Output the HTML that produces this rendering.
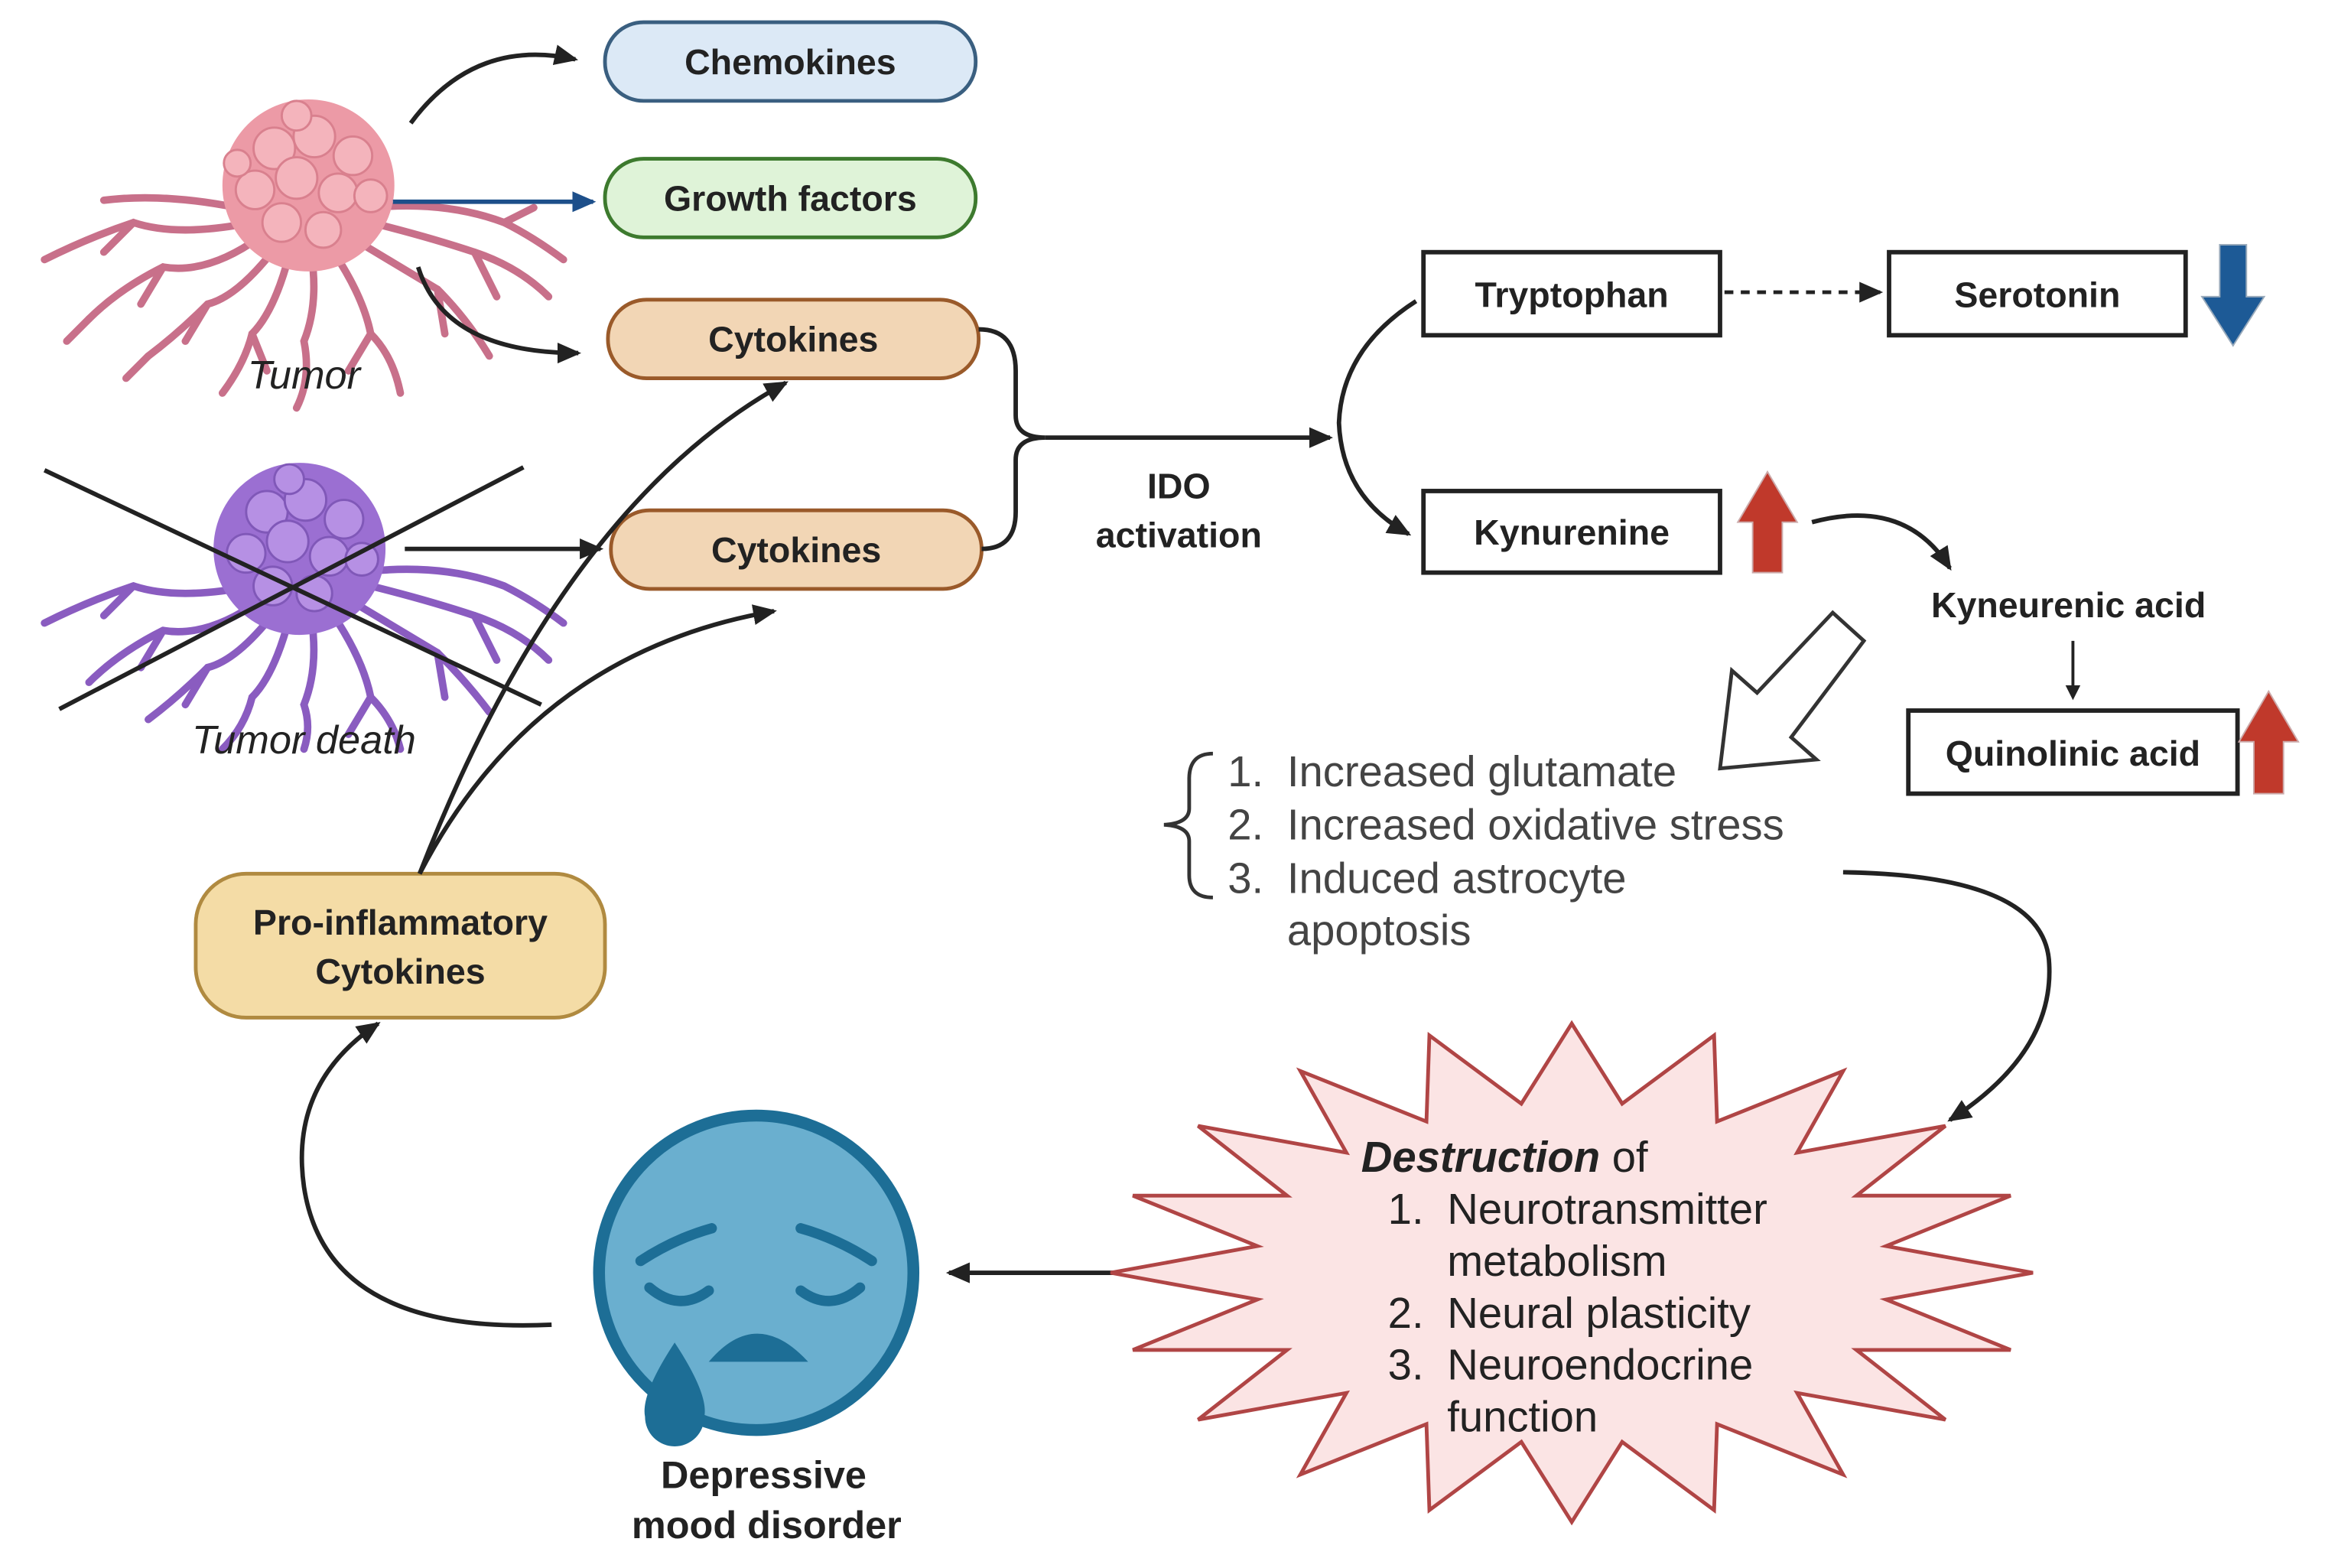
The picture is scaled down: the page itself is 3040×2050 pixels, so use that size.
<!DOCTYPE html>
<html><head><meta charset="utf-8"><style>
html,body{margin:0;padding:0;background:#fff;width:3040px;height:2050px;overflow:hidden}
svg{display:block}
text{font-family:"Liberation Sans",sans-serif}
</style></head><body>
<svg width="3040" height="2050" viewBox="0 0 1568 1057" preserveAspectRatio="none" xmlns="http://www.w3.org/2000/svg">
<defs>
<marker id="ah" markerWidth="10" markerHeight="10" refX="8" refY="5" orient="auto" markerUnits="userSpaceOnUse" viewBox="0 0 10 10"><path d="M0,0 L10,5 L0,10 z" fill="#222"/></marker>
<marker id="ah2" markerWidth="16" markerHeight="16" refX="14" refY="8" orient="auto" markerUnits="userSpaceOnUse" viewBox="0 0 16 16"><path d="M0,1 L16,8 L0,15 z" fill="#222"/></marker>
<marker id="ahb" markerWidth="16" markerHeight="16" refX="14" refY="8" orient="auto" markerUnits="userSpaceOnUse" viewBox="0 0 16 16"><path d="M0,1 L16,8 L0,15 z" fill="#1d4f8a"/></marker>
</defs>

<!-- Tumor (pink) -->
<g stroke="#c8708a" stroke-width="5" fill="none" stroke-linecap="round">
<path d="M170,150 Q120,160 90,150 Q60,160 30,175"/>
<path d="M175,160 Q140,185 110,180 Q80,195 60,215"/>
<path d="M185,168 Q160,200 140,205 Q120,225 100,240"/>
<path d="M195,172 Q185,210 170,225 Q165,245 150,265"/>
<path d="M210,172 Q215,205 205,230 Q210,255 200,275"/>
<path d="M225,170 Q245,200 250,225 Q265,240 270,265"/>
<path d="M240,162 Q270,180 295,195 Q315,215 330,240"/>
<path d="M250,150 Q290,160 320,170 Q350,180 370,200"/>
<path d="M250,140 Q300,135 340,150 Q360,160 380,175"/>
<path d="M160,140 Q110,130 70,135"/>
<path d="M90,150 L70,170 M110,180 L95,205 M140,205 L125,230 M170,225 L180,250 M250,225 L235,250 M295,195 L300,225 M320,170 L335,200 M340,150 L360,140 M60,215 L45,230 M100,240 L85,255"/>
</g>
<circle cx="208" cy="125" r="58" fill="#ec9aa6"/>
<g fill="#f4b4bc" stroke="#d9808e" stroke-width="1.5">
<circle cx="185" cy="100" r="14"/><circle cx="212" cy="92" r="14"/><circle cx="238" cy="105" r="13"/><circle cx="172" cy="128" r="13"/><circle cx="200" cy="120" r="14"/><circle cx="228" cy="130" r="13"/><circle cx="250" cy="132" r="11"/><circle cx="190" cy="150" r="13"/><circle cx="218" cy="155" r="12"/><circle cx="200" cy="78" r="10"/><circle cx="160" cy="110" r="9"/>
</g>
<text x="205" y="262" font-size="27" font-style="italic" text-anchor="middle" fill="#222">Tumor</text>

<!-- Tumor death (purple) -->
<g stroke="#8a5cc0" stroke-width="5" fill="none" stroke-linecap="round">
<path d="M170,395 Q120,405 90,395 Q60,405 30,420"/>
<path d="M175,405 Q140,430 110,425 Q80,440 60,460"/>
<path d="M185,413 Q160,445 140,450 Q120,470 100,485"/>
<path d="M195,417 Q185,455 170,470 Q165,490 150,505"/>
<path d="M210,417 Q215,450 205,475 Q210,490 205,505"/>
<path d="M225,415 Q245,445 250,470 Q265,485 270,505"/>
<path d="M240,407 Q270,425 295,440 Q315,460 330,480"/>
<path d="M250,395 Q290,405 320,415 Q350,425 370,445"/>
<path d="M250,385 Q300,380 340,395 Q360,405 380,420"/>
<path d="M90,395 L70,415 M110,425 L95,450 M140,450 L125,475 M250,470 L235,495 M295,440 L300,470 M320,415 L335,445"/>
</g>
<circle cx="202" cy="370" r="58" fill="#9b6fd2"/>
<g fill="#b690e4" stroke="#8058b8" stroke-width="1.5">
<circle cx="180" cy="345" r="14"/><circle cx="206" cy="337" r="14"/><circle cx="232" cy="350" r="13"/><circle cx="166" cy="373" r="13"/><circle cx="194" cy="365" r="14"/><circle cx="222" cy="375" r="13"/><circle cx="244" cy="377" r="11"/><circle cx="184" cy="395" r="13"/><circle cx="212" cy="400" r="12"/><circle cx="195" cy="323" r="10"/>
</g>
<line x1="30" y1="317" x2="365" y2="475" stroke="#222" stroke-width="3"/>
<line x1="40" y1="478" x2="353" y2="315" stroke="#222" stroke-width="3"/>
<text x="205" y="508" font-size="27" font-style="italic" text-anchor="middle" fill="#222">Tumor death</text>

<!-- Boxes left -->
<rect x="408" y="15" width="250" height="53" rx="26" fill="#dce9f6" stroke="#3a5f80" stroke-width="2.5"/>
<text x="533" y="50" font-size="24" font-weight="bold" text-anchor="middle" fill="#222">Chemokines</text>
<rect x="408" y="107" width="250" height="53" rx="26" fill="#dff3d8" stroke="#3d7a2e" stroke-width="2.5"/>
<text x="533" y="142" font-size="24" font-weight="bold" text-anchor="middle" fill="#222">Growth factors</text>
<rect x="410" y="202" width="250" height="53" rx="26" fill="#f2d6b5" stroke="#9a5a2a" stroke-width="2.5"/>
<text x="535" y="237" font-size="24" font-weight="bold" text-anchor="middle" fill="#222">Cytokines</text>
<rect x="412" y="344" width="250" height="53" rx="26" fill="#f2d6b5" stroke="#9a5a2a" stroke-width="2.5"/>
<text x="537" y="379" font-size="24" font-weight="bold" text-anchor="middle" fill="#222">Cytokines</text>
<rect x="132" y="589" width="276" height="97" rx="34" fill="#f4dca6" stroke="#b08a40" stroke-width="2.5"/>
<text x="270" y="630" font-size="24" font-weight="bold" text-anchor="middle" fill="#222">Pro-inflammatory</text>
<text x="270" y="663" font-size="24" font-weight="bold" text-anchor="middle" fill="#222">Cytokines</text>

<!-- tumor arrows -->
<g fill="none" stroke="#222" stroke-width="3">
<path d="M277,83 Q320,25 388,40" marker-end="url(#ah2)"/>
<path d="M282,180 Q300,238 390,238" marker-end="url(#ah2)"/>
<path d="M273,370 L405,370" marker-end="url(#ah2)"/>
<path d="M283,589 Q380,340 530,258" marker-end="url(#ah2)"/>
<path d="M283,589 Q360,440 522,412" marker-end="url(#ah2)"/>
<path d="M372,893 Q220,900 205,800 Q195,730 255,690" marker-end="url(#ah2)"/>
<path d="M760,858 L640,858" marker-end="url(#ah2)"/>
<path d="M660,222 Q685,222 685,250 L685,280 Q685,295 705,295 Q685,295 685,310 L685,345 Q685,370 662,370"/>
<path d="M705,295 L897,295" marker-end="url(#ah2)"/>
<path d="M955,203 Q905,235 903,285 Q905,335 950,360" marker-end="url(#ah2)"/>
<path d="M1222,352 Q1285,335 1315,383" marker-end="url(#ah2)"/>
<path d="M1398,432 L1398,470" stroke-width="2" marker-end="url(#ah)"/>
<path d="M1243,588 Q1380,590 1382,650 Q1385,710 1315,755" marker-end="url(#ah2)"/>
</g>
<line x1="265" y1="136" x2="400" y2="136" stroke="#1d4f8a" stroke-width="3" marker-end="url(#ahb)"/>
<line x1="1163" y1="197" x2="1268" y2="197" stroke="#222" stroke-width="2.5" stroke-dasharray="6,5" marker-end="url(#ah2)"/>

<text x="795" y="336" font-size="24" font-weight="bold" text-anchor="middle" fill="#222">IDO</text>
<text x="795" y="369" font-size="24" font-weight="bold" text-anchor="middle" fill="#222">activation</text>

<!-- right boxes -->
<g fill="#fff" stroke="#222" stroke-width="3">
<rect x="960" y="170" width="200" height="56"/>
<rect x="1274" y="170" width="200" height="56"/>
<rect x="960" y="331" width="200" height="55"/>
<rect x="1287" y="479" width="222" height="56"/>
</g>
<text x="1060" y="207" font-size="24" font-weight="bold" text-anchor="middle" fill="#222">Tryptophan</text>
<text x="1374" y="207" font-size="24" font-weight="bold" text-anchor="middle" fill="#222">Serotonin</text>
<text x="1060" y="367" font-size="24" font-weight="bold" text-anchor="middle" fill="#222">Kynurenine</text>
<text x="1398" y="516" font-size="24" font-weight="bold" text-anchor="middle" fill="#222">Quinolinic acid</text>
<text x="1395" y="416" font-size="24" font-weight="bold" text-anchor="middle" fill="#222">Kyneurenic acid</text>

<!-- up/down arrows -->
<path d="M1497,165 L1515,165 L1515,200 L1527,200 L1506,233 L1485,200 L1497,200 Z" fill="#1d5a96" stroke="#9ab" stroke-width="1"/>
<path d="M1182,386 L1202,386 L1202,352 L1212,352 L1192,318 L1172,352 L1182,352 Z" fill="#c0392b" stroke="#caa" stroke-width="1"/>
<path d="M1520,535 L1540,535 L1540,500 L1550,500 L1530,466 L1510,500 L1520,500 Z" fill="#c0392b" stroke="#caa" stroke-width="1"/>
<!-- hollow arrow -->
<path d="M1257,432 L1236,413 L1185,467 L1168,452 L1160,518 L1225,512 L1208,497 Z" fill="#fff" stroke="#333" stroke-width="2.5"/>

<!-- list with brace -->
<path d="M818,508 Q802,508 802,525 L802,545 Q802,555 785,556 Q802,557 802,567 L802,590 Q802,605 818,605" fill="none" stroke="#333" stroke-width="2.5"/>
<g font-size="29" fill="#444">
<text x="828" y="530">1.</text><text x="868" y="530">Increased glutamate</text>
<text x="828" y="566">2.</text><text x="868" y="566">Increased oxidative stress</text>
<text x="828" y="602">3.</text><text x="868" y="602">Induced astrocyte</text>
<text x="868" y="637">apoptosis</text>
</g>

<!-- starburst -->
<polygon points="1371,858 1272,876 1356,910 1252,910 1312,957 1212,939 1243,994 1158,960 1156,1018 1094,972 1060,1026 1026,972 964,1018 962,960 877,994 908,939 808,957 868,910 764,910 848,876 749,858 848,840 764,806 868,806 808,759 908,777 877,722 962,756 964,698 1026,744 1060,690 1094,744 1156,698 1158,756 1243,722 1212,777 1312,759 1252,806 1356,806 1272,840" fill="#fbe4e4" stroke="#b04545" stroke-width="2.5"/>
<g font-size="29" fill="#222">
<text x="918" y="790"><tspan font-weight="bold" font-style="italic">Destruction</tspan> of</text>
<text x="936" y="825">1.</text><text x="976" y="825">Neurotransmitter</text>
<text x="976" y="860">metabolism</text>
<text x="936" y="895">2.</text><text x="976" y="895">Neural plasticity</text>
<text x="936" y="930">3.</text><text x="976" y="930">Neuroendocrine</text>
<text x="976" y="965">function</text>
</g>

<!-- face -->
<circle cx="510" cy="858" r="106" fill="#6aafcf" stroke="#1d6e96" stroke-width="8"/>
<g fill="none" stroke="#1d6e96" stroke-width="7" stroke-linecap="round">
<path d="M432,850 Q455,835 480,828"/>
<path d="M438,868 Q458,885 478,870"/>
<path d="M540,828 Q565,835 588,850"/>
<path d="M540,870 Q560,885 580,868"/>
</g>
<path d="M478,918 Q510,880 545,918 Z" fill="#1d6e96"/>
<path d="M455,905 Q432,940 435,955 A20,20 0 0 0 475,955 Q478,940 455,905 Z" fill="#1d6e96"/>
<text x="515" y="1003" font-size="26" font-weight="bold" text-anchor="middle" fill="#222">Depressive</text>
<text x="517" y="1037" font-size="26" font-weight="bold" text-anchor="middle" fill="#222">mood disorder</text>
</svg>
</body></html>
